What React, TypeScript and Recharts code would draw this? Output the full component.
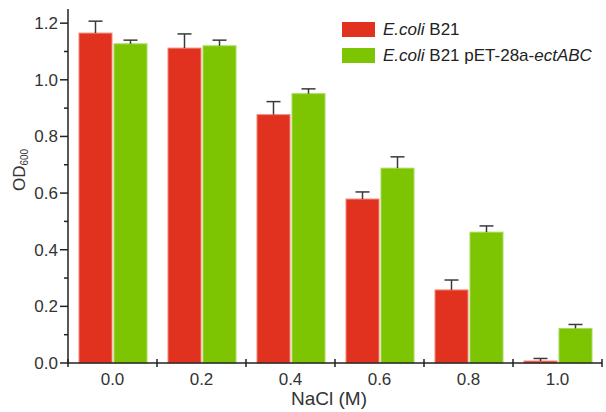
import React from 'react';
import { BarChart, Bar, XAxis, YAxis, Label } from 'recharts';

// NaCl concentration (M)
const categories = ['0.0', '0.2', '0.4', '0.6', '0.8', '1.0'];
// OD600, E. coli B21
const wildType = [1.165, 1.112, 0.877, 0.579, 0.258, 0.007];
const wildTypeErr = [0.042, 0.05, 0.046, 0.025, 0.035, 0.009];
// OD600, E. coli B21 pET-28a-ectABC
const engineered = [1.127, 1.12, 0.951, 0.688, 0.462, 0.122];
const engineeredErr = [0.013, 0.02, 0.017, 0.04, 0.022, 0.014];
const yTicks = [0, 0.1, 0.2, 0.3, 0.4, 0.5, 0.6, 0.7, 0.8, 0.9, 1.0, 1.1, 1.2];

const RED = '#E1321F';
const GREEN = '#7DC502';
const AXIS = '#222';
const TEXT = '#333';
const FONT = '"Liberation Sans", Arial, sans-serif';

// legend entries: [text, italic?] segments
const legendItems = [
  { color: RED, parts: [['E.coli', true], [' B21', false]] },
  { color: GREEN, parts: [['E.coli', true], [' B21 pET-28a-', false], ['ectABC', true]] },
];

const data = categories.map((c, i) => ({
  name: c,
  wt: wildType[i],
  wtErr: wildTypeErr[i],
  eng: engineered[i],
  engErr: engineeredErr[i],
}));

// bar + one-sided (upper) error bar, scaled from the bar's own height
const BarWithError = (props: any) => {
  const { x, y, width, height, fill, payload, valKey, errKey } = props;
  const val = payload[valKey];
  const err = payload[errKey];
  const pxPerUnit = val ? height / val : 0;
  const top = y - err * pxPerUnit;
  const cx = x + width / 2;
  return (
    <g>
      <rect x={x} y={y} width={width} height={height} fill={fill} stroke={props.edge} strokeWidth={1} />
      <line x1={cx} x2={cx} y1={y} y2={top} stroke="#3a3a3a" strokeWidth={1.5} />
      <line x1={cx - 7} x2={cx + 7} y1={top} y2={top} stroke="#3a3a3a" strokeWidth={1.5} />
    </g>
  );
};

const YTick = ({ x, y, payload }: any) => {
  const v = payload.value;
  const major = Math.round(v * 10) % 2 === 0;
  return (
    <g>
      <line x1={x - (major ? 8 : 4)} x2={x} y1={y} y2={y} stroke={AXIS} strokeWidth={1.5} />
      {major && (
        <text x={x - 10} y={y + 6} textAnchor="end" fontSize={17} fill={TEXT} fontFamily={FONT}>
          {v.toFixed(1)}
        </text>
      )}
    </g>
  );
};

const XTick = ({ x, y, payload, index }: any) => {
  const half = payload.offset ?? 0;
  return (
    <g>
      <line x1={x - half} x2={x - half} y1={y - 4} y2={y + 4} stroke={AXIS} strokeWidth={1.5} />
      {index === categories.length - 1 && (
        <line x1={x + half} x2={x + half} y1={y - 4} y2={y + 4} stroke={AXIS} strokeWidth={1.5} />
      )}
      <text x={x} y={y + 22} textAnchor="middle" fontSize={17} fill={TEXT} fontFamily={FONT}>
        {payload.value}
      </text>
    </g>
  );
};

const YLabel = () => (
  <text transform="translate(25,170) rotate(-90)" x={0} y={0} textAnchor="middle" fontSize={17} fill={TEXT} fontFamily={FONT}>
    OD
    <tspan fontSize={10} dy={3}>600</tspan>
  </text>
);

export default function App() {
  return (
    <div style={{ position: 'fixed', left: 0, top: 0, width: 606, height: 412, background: '#fff' }}>
      <BarChart
        width={606}
        height={412}
        data={data}
        margin={{ top: 9, right: 4, left: 0, bottom: 0 }}
        barGap={2}
      >
        <XAxis
          dataKey="name"
          height={49}
          interval={0}
          tickLine={false}
          tickSize={0}
          tickMargin={0}
          axisLine={{ stroke: AXIS, strokeWidth: 1.5 }}
          tick={<XTick />}
        >
          <Label value="NaCl (M)" position="insideBottom" offset={7} dx={-6} fontSize={19} fill={TEXT} fontFamily={FONT} />
        </XAxis>
        <YAxis
          width={68}
          domain={[0, 1.25]}
          ticks={yTicks}
          interval={0}
          tickLine={false}
          tickSize={0}
          tickMargin={0}
          axisLine={{ stroke: AXIS, strokeWidth: 1.5 }}
          tick={<YTick />}
        >
          <Label content={<YLabel />} />
        </YAxis>
        <Bar
          dataKey="wt"
          fill={RED}
          barSize={33}
          isAnimationActive={false}
          shape={(p: any) => <BarWithError {...p} valKey="wt" errKey="wtErr" edge="#F3877A" />}
        />
        <Bar
          dataKey="eng"
          fill={GREEN}
          barSize={33}
          isAnimationActive={false}
          shape={(p: any) => <BarWithError {...p} valKey="eng" errKey="engErr" edge="#A6DA5A" />}
        />
      </BarChart>
      <div style={{ position: 'absolute', left: 342, top: 22, fontFamily: FONT, fontSize: 17, color: '#222' }}>
        {legendItems.map((item, i) => (
          <div key={i} style={{ display: 'flex', alignItems: 'center', height: 15, marginBottom: 11 }}>
            <div style={{ width: 33, height: 15, background: item.color, marginRight: 8 }} />
            <span style={{ whiteSpace: 'nowrap' }}>
              {item.parts.map(([t, it], j) => (
                <span key={j} style={{ fontStyle: it ? 'italic' : 'normal' }}>{t as string}</span>
              ))}
            </span>
          </div>
        ))}
      </div>
    </div>
  );
}
